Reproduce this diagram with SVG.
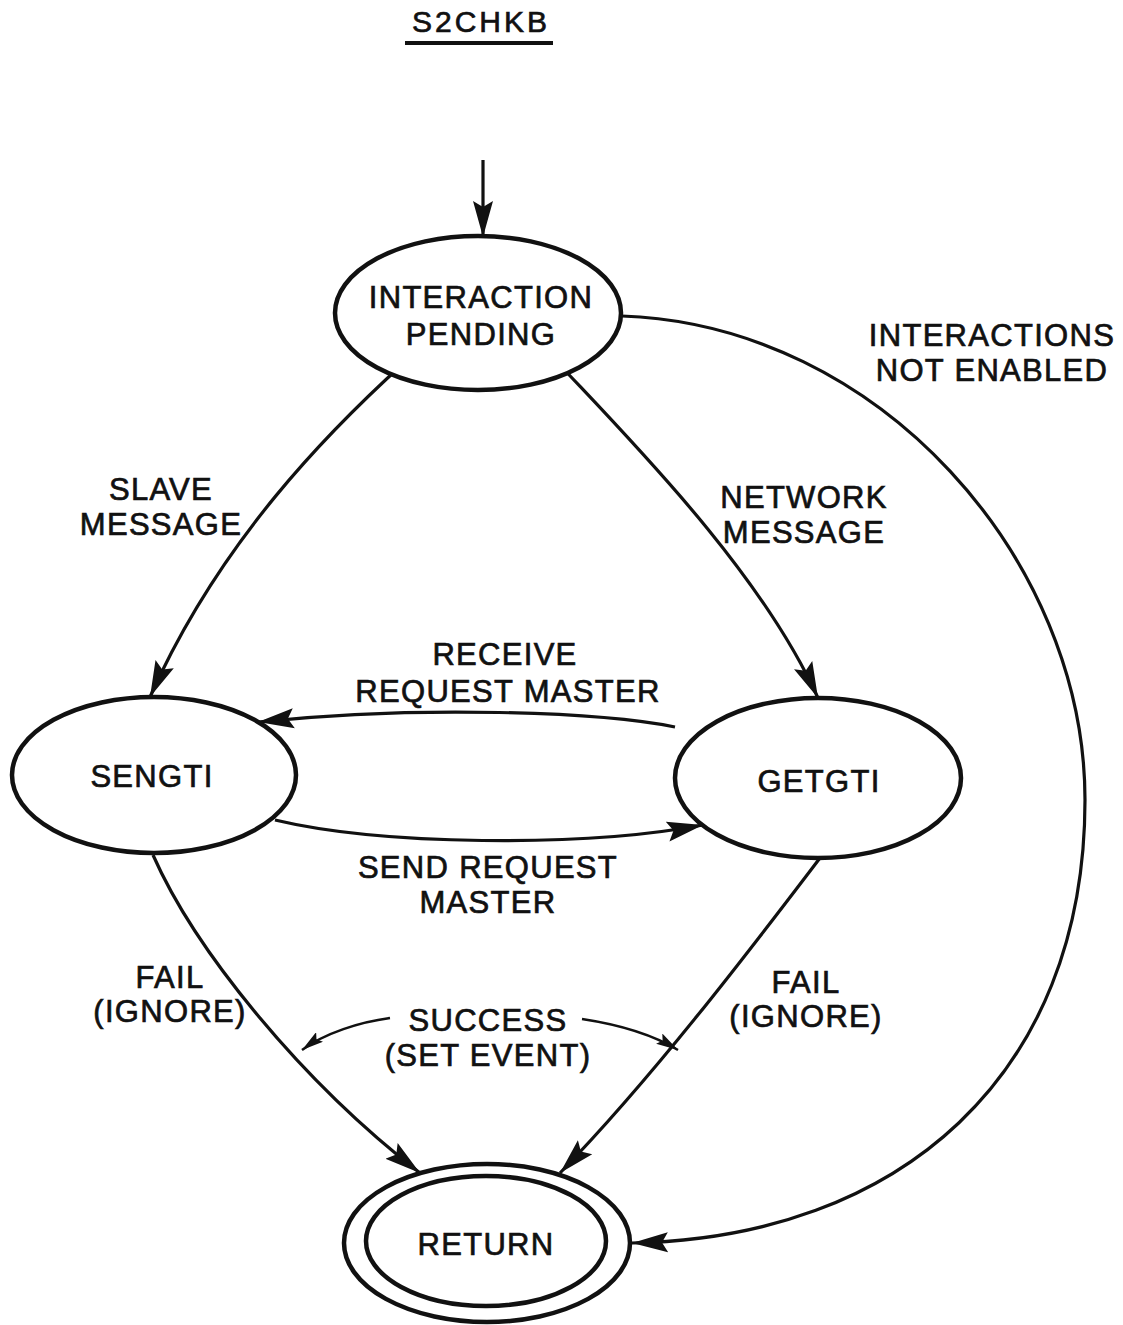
<svg xmlns="http://www.w3.org/2000/svg" width="1123" height="1325" viewBox="0 0 1123 1325">
  <style>
    .node { fill: #fff; stroke: #111; stroke-width: 4.5; }
    .lbl { font-family: "Liberation Sans", Arial, Helvetica, sans-serif; font-size: 31px; fill: #111; stroke: #111; stroke-width: 0.7; text-anchor: middle; letter-spacing: 1.3px; }
    .edge { fill: none; stroke: #111; stroke-width: 3.2; }
    .thin { fill: none; stroke: #111; stroke-width: 2.5; }
  </style>
  <defs>
    <marker id="arrow" viewBox="0 0 36 22" refX="36" refY="11" markerWidth="36" markerHeight="22" markerUnits="userSpaceOnUse" orient="auto">
      <path d="M0,1 L36,11 L0,21 L6,11 Z" fill="#111"/>
    </marker>
    <marker id="arrowSmall" viewBox="0 0 22 12" refX="22" refY="6" markerWidth="22" markerHeight="12" markerUnits="userSpaceOnUse" orient="auto">
      <path d="M0,0 L22,6 L0,12 L4,6 Z" fill="#111"/>
    </marker>
  </defs>

  <rect width="1123" height="1325" fill="#fff"/>

  <!-- title -->
  <g id="title">
    <text class="lbl" x="481" y="32" style="font-size:30px;letter-spacing:3px">S2CHKB</text>
    <line x1="405" y1="43" x2="553" y2="43" stroke="#111" stroke-width="4"/>
  </g>

  <!-- transitions -->
  <g id="connectors">
    <path class="edge" d="M483,160 L483,237" marker-end="url(#arrow)"/>
    <path class="edge" d="M405,362 C330,430 220,540 150,697" marker-end="url(#arrow)"/>
    <path class="edge" d="M557,362 C630,440 760,570 818,698" marker-end="url(#arrow)"/>
    <path class="edge" d="M622,316 C880,325 1085,560 1085,800 C1085,1075 900,1238 632,1243" marker-end="url(#arrow)"/>
    <path class="edge" d="M675,727 C600,712 420,705 258,722" marker-end="url(#arrow)"/>
    <path class="edge" d="M275,820 C380,845 580,848 703,825" marker-end="url(#arrow)"/>
    <path class="edge" d="M153,855 C195,950 300,1080 420,1173" marker-end="url(#arrow)"/>
    <path class="edge" d="M820,858 C765,930 660,1070 560,1173" marker-end="url(#arrow)"/>
    <path class="thin" d="M390,1018 C360,1022 325,1033 302,1050" marker-end="url(#arrowSmall)"/>
    <path class="thin" d="M582,1019 C615,1024 650,1033 678,1050" marker-end="url(#arrowSmall)"/>
  </g>

  <!-- transition labels -->
  <g id="labels">
    <text class="lbl" x="161" y="500">SLAVE</text>
    <text class="lbl" x="161" y="535">MESSAGE</text>
    <text class="lbl" x="804" y="508">NETWORK</text>
    <text class="lbl" x="804" y="543">MESSAGE</text>
    <text class="lbl" x="992" y="346">INTERACTIONS</text>
    <text class="lbl" x="992" y="381">NOT ENABLED</text>
    <text class="lbl" x="505" y="665">RECEIVE</text>
    <text class="lbl" x="508" y="702">REQUEST MASTER</text>
    <text class="lbl" x="488" y="878">SEND REQUEST</text>
    <text class="lbl" x="488" y="913">MASTER</text>
    <text class="lbl" x="170" y="988">FAIL</text>
    <text class="lbl" x="170" y="1022">(IGNORE)</text>
    <text class="lbl" x="806" y="993">FAIL</text>
    <text class="lbl" x="806" y="1027">(IGNORE)</text>
    <text class="lbl" x="488" y="1031">SUCCESS</text>
    <text class="lbl" x="488" y="1066">(SET EVENT)</text>
  </g>

  <!-- states -->
  <g id="interaction-pending">
    <ellipse class="node" cx="478" cy="313" rx="143" ry="77"/>
    <text class="lbl" x="481" y="308">INTERACTION</text>
    <text class="lbl" x="481" y="345">PENDING</text>
  </g>
  <g id="sengti">
    <ellipse class="node" cx="154" cy="775" rx="142" ry="78"/>
    <text class="lbl" x="152" y="787">SENGTI</text>
  </g>
  <g id="getgti">
    <ellipse class="node" cx="818" cy="778" rx="143" ry="80"/>
    <text class="lbl" x="819" y="792">GETGTI</text>
  </g>
  <g id="return">
    <ellipse class="node" cx="487" cy="1243" rx="143" ry="79"/>
    <ellipse class="node" cx="486" cy="1241" rx="120" ry="65"/>
    <text class="lbl" x="486" y="1255">RETURN</text>
  </g>
</svg>
